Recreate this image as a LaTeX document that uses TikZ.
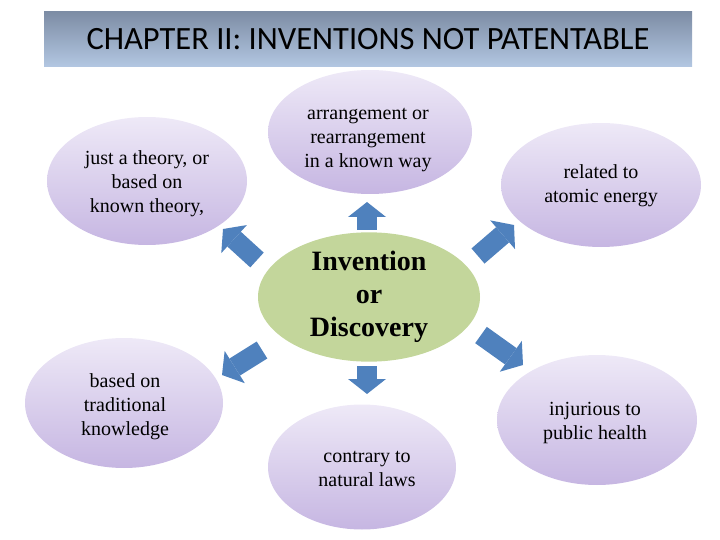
\documentclass[tikz,border=0pt]{standalone}
\usepackage{fontspec}
\setmainfont{Liberation Serif}
\newfontfamily\hdfont{Carlito}
\usetikzlibrary{shapes.geometric,arrows.meta}
\definecolor{lavtop}{HTML}{EEE9F7}
\definecolor{lavbot}{HTML}{C6B6E2}
\definecolor{arrblue}{HTML}{4F81BD}
\definecolor{cgreen}{HTML}{C3D69B}
\definecolor{hdtop}{HTML}{7D8DA5}
\definecolor{hdbot}{HTML}{B3C7E2}
\tikzset{
  bubble/.style={ellipse, minimum width=200pt, minimum height=128pt, inner sep=0pt,
    top color=lavtop, bottom color=lavbot, draw=none},
  btext/.style={align=center, inner sep=0pt, font=\fontsize{20}{24}\selectfont},
  blk/.style={draw=arrblue, line width=20pt,
    -{Triangle[length=15pt,width=38pt,line width=0pt]}}
}
\begin{document}
\begin{tikzpicture}[x=1pt,y=-1pt]
\useasboundingbox (0,0) rectangle (720,540);
\node[rectangle, minimum width=648pt, minimum height=55pt, top color=hdtop, bottom color=hdbot,
  inner sep=0pt, font=\hdfont\fontsize{32.5}{36}\selectfont] (hd) at (368,39.5)
  {CHAPTER II: INVENTIONS NOT PATENTABLE};

\node[ellipse, fill=cgreen, minimum width=222pt, minimum height=124pt, inner sep=0pt,
  align=center, font=\bfseries\fontsize{28}{33}\selectfont] (c) at (369,297)
  {Invention\\or\\Discovery};

\node[bubble] (tl) at (147,181) {};
\node[bubble, minimum width=204pt, minimum height=124pt] (tc) at (370,132) {};
\node[bubble, minimum height=124pt] (tr) at (601,185) {};
\node[bubble, minimum width=198pt, minimum height=130pt] (bl) at (124,403) {};
\node[bubble, minimum width=188pt, minimum height=125pt] (bc) at (362,467) {};
\node[bubble, minimum height=130pt] (br) at (597,420) {};

\node[btext] (tlt) at (147,184) {just a theory, or\\based on\\known theory,};
\node[btext] (tct) at (368,140) {arrangement or\\rearrangement\\in a known way};
\node[btext] (trt) at (601,185.5) {related to\\atomic energy};
\node[btext] (blt) at (125,407) {based on\\traditional\\knowledge};
\node[btext] (bct) at (367,468.5) {contrary to\\natural laws};
\node[btext] (brt) at (595,423.5) {injurious to\\public health};

\coordinate (uS) at (367,230); \coordinate (uE) at (367,202);
\coordinate (dS) at (367,366); \coordinate (dE) at (367,394);
\coordinate (ulS) at (257,260); \coordinate (ulE) at (223,229);
\coordinate (urS) at (478,256); \coordinate (urE) at (514,225);
\coordinate (lrS) at (481,335); \coordinate (lrE) at (523,365);
\coordinate (llS) at (262,350); \coordinate (llE) at (222,375);

\draw[blk] (uS) -- (uE);
\draw[blk] (dS) -- (dE);
\draw[blk] (ulS) -- (ulE);
\draw[blk] (urS) -- (urE);
\draw[blk] (lrS) -- (lrE);
\draw[blk] (llS) -- (llE);
\end{tikzpicture}
\end{document}
